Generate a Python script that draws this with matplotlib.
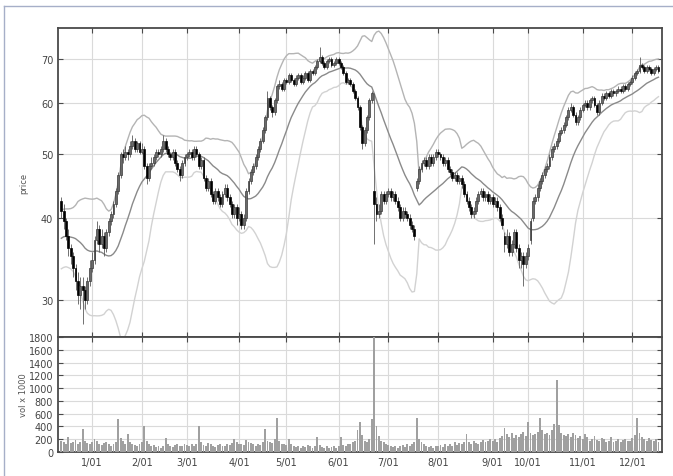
import matplotlib
matplotlib.use("Agg")
import matplotlib.pyplot as plt
from matplotlib.lines import Line2D
import numpy as np
import pandas as pd

# trading calendar (NYSE, Dec 2000 - Dec 2001, incl. the Sep 11-14 closure)
start_day = "2000-12-12"
end_day = "2001-12-18"
holidays = ["2000-12-25", "2001-01-01", "2001-01-15", "2001-02-19", "2001-04-13",
            "2001-05-28", "2001-07-04", "2001-09-03", "2001-09-11", "2001-09-12",
            "2001-09-13", "2001-09-14", "2001-11-22"]

# closes of the 19 sessions before the window (only feed the 20-day bands)
warmup_close = [35.5, 36.5, 37.0, 36.0, 35.0, 34.5, 35.5, 36.5, 37.5, 38.0,
                37.0, 36.0, 35.5, 36.5, 37.5, 38.5, 39.0, 40.0, 41.5]

opens = [
    # Dec
    42.5, 41.0, 39.5, 37.5, 36.0, 35.0, 33.5, 32.0, 30.5, 31.5, 31.0, 30.0, 32.0,
    # Jan
    33.5, 34.5, 37.0, 38.5, 36.5, 37.5, 36.0, 38.0, 39.5, 40.5, 42.0, 44.0, 46.5, 50.0, 49.5,
    50.5, 50.0, 51.5, 52.5, 51.0, 52.0,
    # Feb
    50.5, 51.0, 48.0, 46.0, 48.0, 48.5, 49.5, 50.5, 50.0, 51.0, 52.5, 51.0, 50.0, 49.5, 50.5,
    48.5, 47.5, 46.5, 48.5,
    # Mar
    49.5, 50.0, 50.5, 49.5, 51.0, 50.0, 48.0, 49.0, 46.0, 44.5, 45.5, 43.5, 42.5, 44.0, 43.0,
    42.0, 43.5, 44.5, 43.0, 42.0, 40.5, 41.5,
    # Apr
    40.0, 40.5, 39.0, 40.0, 44.0, 45.5, 47.0, 48.0, 49.5, 51.0, 52.5, 54.5, 57.0, 61.0, 59.0,
    58.0, 60.5, 63.5, 64.0, 63.0,
    # May
    65.0, 64.5, 66.0, 65.0, 64.0, 65.5, 66.0, 64.5, 65.5, 66.5, 65.0, 67.0, 66.5, 68.0, 69.5,
    70.5, 69.0, 68.0, 69.5, 70.0, 68.5, 69.0,
    # Jun
    70.0, 69.0, 68.0, 66.5, 64.5, 65.0, 64.0, 62.5, 61.0, 59.0, 55.0, 52.0, 54.5, 57.0, 60.5,
    44.0, 42.0, 40.5, 41.0, 43.5, 42.5,
    # Jul
    43.5, 44.0, 43.0, 43.5, 42.5, 41.5, 40.0, 41.0, 40.5, 40.0, 39.0, 38.5, 44.5, 45.5, 47.5,
    48.5, 49.0, 48.0, 49.5, 48.5, 49.5,
    # Aug
    50.5, 50.0, 49.5, 48.5, 49.0, 47.5, 47.0, 46.0, 46.5, 45.5, 46.0, 45.0, 43.5, 42.5, 41.5,
    40.5, 41.0, 42.5, 43.5, 44.0, 43.0, 43.5, 42.5,
    # Sep
    43.0, 42.0, 42.5, 41.5, 40.0, 37.5, 36.5, 37.5, 35.5, 36.5, 38.0, 36.0, 34.5, 35.0, 34.0,
    # Oct
    35.0, 37.0, 40.0, 42.5, 43.0, 44.5, 45.5, 46.5, 47.5, 48.0, 49.5, 51.0, 51.5, 52.5, 54.0,
    54.5, 55.5, 57.0, 58.5, 59.0, 57.5, 56.0, 57.0,
    # Nov
    58.5, 59.5, 60.0, 59.0, 60.5, 61.0, 59.5, 58.0, 60.0, 61.5, 61.0, 62.0, 61.5, 62.5, 62.0,
    62.5, 63.0, 62.5, 63.5, 63.0, 64.0,
    # Dec
    64.5, 65.5, 66.5, 67.0, 68.5, 68.0, 67.0, 68.0, 67.5, 66.5, 67.5, 68.0,
]

highs = [
    43.0, 42.0, 40.0, 38.5, 36.5, 35.5, 34.0, 33.0, 32.5, 32.5, 31.5, 32.5, 34.5,
    35.5, 37.5, 39.5, 39.0, 38.5, 38.0, 38.5, 40.0, 41.0, 42.5, 44.5, 47.0, 50.5, 51.0, 51.5,
    51.0, 52.5, 53.5, 53.0, 52.5, 52.5,
    52.0, 51.5, 48.5, 48.5, 49.5, 50.0, 51.0, 51.0, 51.5, 53.5, 53.0, 51.5, 50.5, 51.0, 51.0,
    49.0, 48.0, 49.0, 50.0,
    50.5, 51.0, 51.0, 51.5, 51.5, 50.5, 49.5, 49.5, 46.5, 46.0, 46.0, 44.0, 44.5, 44.5, 43.5,
    44.0, 45.0, 45.0, 43.5, 42.5, 42.0, 42.0,
    41.5, 41.0, 40.5, 44.5, 46.0, 47.5, 48.5, 50.0, 51.5, 53.0, 55.0, 57.5, 62.5, 61.5, 59.5,
    61.0, 64.0, 65.0, 64.5, 65.5,
    65.5, 66.5, 66.5, 65.5, 66.0, 66.5, 66.5, 66.0, 67.0, 67.0, 67.5, 67.5, 68.5, 70.0, 73.0,
    71.0, 69.5, 70.0, 70.5, 70.5, 69.5, 70.5,
    70.5, 69.5, 68.5, 67.0, 65.5, 65.5, 64.5, 63.0, 61.5, 59.5, 55.5, 55.0, 57.5, 61.0, 62.5,
    62.0, 43.0, 42.0, 44.0, 44.0, 44.0,
    44.5, 44.5, 44.0, 44.0, 43.0, 42.0, 41.5, 41.5, 41.0, 40.5, 39.5, 39.0, 46.0, 48.0, 49.0,
    49.5, 49.5, 50.0, 50.0, 50.0, 51.0,
    51.0, 50.5, 50.0, 49.5, 49.5, 48.0, 47.5, 47.0, 47.0, 46.5, 46.5, 45.5, 44.0, 43.0, 42.0,
    41.5, 43.0, 44.0, 44.5, 44.5, 44.0, 44.0, 43.5,
    43.5, 43.0, 43.0, 42.0, 40.5, 38.0, 38.5, 38.0, 37.0, 38.5, 38.5, 36.5, 35.5, 35.5, 35.5,
    36.5, 40.0, 43.0, 43.5, 45.0, 46.0, 47.0, 48.0, 48.5, 50.0, 51.5, 52.0, 53.0, 54.5, 55.0,
    56.0, 57.5, 59.0, 60.0, 59.5, 58.0, 57.5, 59.0,
    60.0, 60.5, 60.5, 61.0, 61.5, 61.5, 60.0, 60.5, 62.0, 62.0, 62.5, 62.5, 63.0, 63.0, 63.0,
    63.5, 63.5, 64.0, 64.0, 64.5, 65.0,
    66.0, 67.0, 67.5, 70.5, 69.0, 68.5, 68.5, 68.5, 68.0, 68.0, 68.5, 68.5,
]

lows = [
    40.0, 38.5, 37.0, 35.0, 34.0, 32.5, 31.0, 29.5, 29.0, 27.5, 29.0, 29.5, 31.5,
    33.0, 34.0, 36.5, 35.5, 36.0, 35.0, 35.5, 37.5, 39.0, 40.0, 41.5, 43.5, 46.0, 48.5, 49.0,
    49.0, 49.5, 51.0, 50.5, 50.5, 50.0,
    50.0, 47.5, 45.0, 45.5, 47.5, 48.0, 49.0, 49.5, 49.5, 50.5, 50.5, 49.5, 49.0, 49.0, 48.0,
    47.0, 45.5, 46.0, 48.0,
    49.0, 49.5, 49.0, 49.0, 49.5, 47.5, 47.5, 45.5, 44.0, 44.0, 43.0, 42.0, 42.0, 42.5, 41.5,
    41.5, 43.0, 42.5, 41.5, 40.0, 40.0, 39.0,
    39.5, 38.5, 38.5, 39.5, 43.5, 45.0, 46.5, 47.5, 49.0, 50.5, 52.0, 54.0, 56.5, 58.5, 57.0,
    57.5, 60.0, 63.0, 62.5, 62.5,
    64.0, 64.0, 64.5, 63.5, 63.5, 65.0, 64.0, 64.0, 65.0, 64.5, 64.5, 66.0, 66.0, 67.5, 69.0,
    68.5, 67.5, 67.5, 69.0, 68.0, 68.0, 68.5,
    68.5, 67.5, 66.0, 64.0, 64.0, 63.5, 62.0, 60.5, 58.5, 54.5, 51.0, 51.5, 54.0, 56.5, 60.0,
    36.5, 39.5, 40.0, 40.5, 42.0, 42.0,
    43.0, 42.5, 42.5, 42.0, 41.0, 39.5, 39.5, 40.0, 39.5, 38.5, 38.0, 37.0, 44.0, 45.0, 47.0,
    48.0, 47.5, 47.5, 48.0, 48.0, 49.0,
    49.5, 49.0, 48.0, 48.0, 47.0, 46.5, 45.5, 45.5, 45.0, 45.0, 44.5, 43.0, 42.0, 41.0, 40.0,
    40.0, 40.5, 42.0, 43.0, 42.5, 42.5, 42.0, 42.0,
    41.5, 41.5, 41.0, 39.5, 38.5, 35.5, 36.0, 35.0, 35.0, 36.0, 35.5, 33.5, 33.5, 31.5, 33.5,
    34.5, 36.5, 39.5, 42.0, 42.5, 44.0, 45.0, 46.0, 47.0, 47.5, 49.0, 50.5, 51.0, 52.0, 53.5,
    54.0, 55.0, 56.5, 58.0, 57.0, 55.5, 55.5, 56.5,
    58.0, 59.0, 58.5, 58.5, 60.0, 59.0, 57.5, 57.5, 59.5, 60.5, 60.5, 61.0, 61.0, 61.5, 61.5,
    62.0, 62.0, 62.0, 62.5, 62.5, 63.5,
    64.0, 65.0, 66.0, 66.5, 67.5, 66.5, 66.5, 67.0, 66.0, 66.0, 67.0, 66.5,
]

closes = [
    41.0, 39.5, 37.5, 36.0, 35.0, 33.5, 32.0, 30.5, 31.5, 31.0, 30.0, 32.0, 33.5,
    34.5, 37.0, 38.5, 36.5, 37.5, 36.0, 38.0, 39.5, 40.5, 42.0, 44.0, 46.5, 50.0, 49.5, 50.5,
    50.0, 51.5, 52.5, 51.0, 52.0, 50.5,
    51.0, 48.0, 46.0, 48.0, 48.5, 49.5, 50.5, 50.0, 51.0, 52.5, 51.0, 50.0, 49.5, 50.5, 48.5,
    47.5, 46.5, 48.5, 49.5,
    50.0, 50.5, 49.5, 51.0, 50.0, 48.0, 49.0, 46.0, 44.5, 45.5, 43.5, 42.5, 44.0, 43.0, 42.0,
    43.5, 44.5, 43.0, 42.0, 40.5, 41.5, 40.0,
    40.5, 39.0, 40.0, 44.0, 45.5, 47.0, 48.0, 49.5, 51.0, 52.5, 54.5, 57.0, 61.0, 59.0, 58.0,
    60.5, 63.5, 64.0, 63.0, 65.0,
    64.5, 66.0, 65.0, 64.0, 65.5, 66.0, 64.5, 65.5, 66.5, 65.0, 67.0, 66.5, 68.0, 69.5, 70.5,
    69.0, 68.0, 69.5, 70.0, 68.5, 69.0, 70.0,
    69.0, 68.0, 66.5, 64.5, 65.0, 64.0, 62.5, 61.0, 59.0, 55.0, 52.0, 54.5, 57.0, 60.5, 62.0,
    42.0, 40.5, 41.0, 43.5, 42.5, 43.5,
    44.0, 43.0, 43.5, 42.5, 41.5, 40.0, 41.0, 40.5, 40.0, 39.0, 38.5, 37.5, 45.5, 47.5, 48.5,
    49.0, 48.0, 49.5, 48.5, 49.5, 50.5,
    50.0, 49.5, 48.5, 49.0, 47.5, 47.0, 46.0, 46.5, 45.5, 46.0, 45.0, 43.5, 42.5, 41.5, 40.5,
    41.0, 42.5, 43.5, 44.0, 43.0, 43.5, 42.5, 43.0,
    42.0, 42.5, 41.5, 40.0, 39.0, 36.5, 37.5, 35.5, 36.5, 38.0, 36.0, 34.5, 35.0, 34.0, 35.0,
    36.0, 39.5, 42.5, 43.0, 44.5, 45.5, 46.5, 47.5, 48.0, 49.5, 51.0, 51.5, 52.5, 54.0, 54.5,
    55.5, 57.0, 58.5, 59.0, 57.5, 56.0, 57.0, 58.5,
    59.5, 60.0, 59.0, 60.5, 61.0, 59.5, 58.0, 60.0, 61.5, 61.0, 62.0, 61.5, 62.5, 62.0, 62.5,
    63.0, 62.5, 63.5, 63.0, 64.0, 64.5,
    65.5, 66.5, 67.0, 68.5, 68.0, 67.0, 68.0, 67.5, 66.5, 67.5, 68.0, 67.0,
]

# volume, thousands of shares
volume = [
    180, 150, 120, 230, 140, 160, 190, 130, 150, 360, 170, 140, 120,
    150, 200, 170, 130, 110, 140, 160, 120, 100, 130, 150, 510, 220, 180, 130, 280, 150, 120,
    110, 90, 130,
    150, 400, 180, 120, 90, 110, 80, 100, 70, 90, 215, 120, 90, 80, 110, 130, 100, 90, 120,
    110, 90, 130, 100, 120, 400, 150, 110, 90, 140, 120, 100, 80, 110, 130, 90, 100, 120, 110,
    140, 200, 150,
    130, 120, 110, 190, 160, 140, 120, 100, 130, 110, 150, 360, 180, 160, 140, 200, 540, 170,
    130, 120,
    110, 200, 120, 90, 80, 100, 70, 90, 80, 110, 90, 70, 100, 230, 110, 80, 70, 90, 60, 80,
    100, 70,
    90, 230, 110, 100, 130, 120, 150, 180, 340, 470, 260, 180, 150, 200, 510, 1950, 400, 250,
    180, 150, 120,
    110, 90, 80, 100, 70, 90, 110, 80, 120, 100, 130, 150, 540, 200, 150, 120, 90, 80, 100,
    70, 90,
    90, 110, 80, 120, 100, 130, 90, 150, 110, 140, 120, 160, 280, 150, 130, 170, 140, 120,
    160, 190, 150, 180, 200,
    170, 200, 160, 220, 250, 370, 280, 240, 300, 220, 260, 230, 280, 310, 250,
    470, 300, 260, 280, 320, 540, 350, 280, 300, 260, 340, 440, 1130, 420, 300, 260, 250, 280,
    230, 300, 270, 220, 250,
    200, 280, 230, 180, 210, 250, 190, 170, 220, 200, 160, 180, 230, 150, 170, 200, 160, 190,
    210, 180, 170,
    220, 260, 540, 300, 240, 200, 180, 220, 190, 170, 200, 160,
]

price_ticks = [30, 40, 50, 60, 70]
vol_ticks = list(range(0, 1801, 200))

dates = pd.bdate_range(start_day, end_day, freq="C", holidays=holidays)
x = np.arange(len(dates))
o = np.array(opens)
h = np.array(highs)
l = np.array(lows)
c = np.array(closes)
v = np.array(volume)

# 20-day moving average and Bollinger bands
s = pd.Series(warmup_close + closes)
ma = s.rolling(20).mean().to_numpy()[len(warmup_close):]
sd = s.rolling(20).std(ddof=0).to_numpy()[len(warmup_close):]
upper = ma + 2 * sd
lower = ma - 2 * sd

# month starts for the x ticks
month_pos = [i for i in range(1, len(dates)) if dates[i].month != dates[i - 1].month]
month_lab = ["%d/01" % dates[i].month for i in month_pos]

fig = plt.figure(figsize=(6.73, 4.77), dpi=100)
ax = fig.add_axes([0.0862, 0.2914, 0.8975, 0.6478])
axv = fig.add_axes([0.0862, 0.0503, 0.8975, 0.2411], sharex=ax)

grid_c = "#dadada"
frame_c = "#4a4a4a"

ax.plot(x, upper, color="#b4b4b4", lw=1.0, zorder=2)
ax.plot(x, lower, color="#d2d2d2", lw=1.0, zorder=2)
ax.plot(x, ma, color="#8a8a8a", lw=1.0, zorder=2)

ax.vlines(x, l, h, color="#5a5a5a", lw=0.6, zorder=3)
down = c < o
body_lo = np.minimum(o, c)
body_hi = np.maximum(o, c)
ax.bar(x[down], (body_hi - body_lo)[down], bottom=body_lo[down], width=0.8,
       color="black", edgecolor="black", lw=0.5, zorder=4)
ax.bar(x[~down], (body_hi - body_lo)[~down], bottom=body_lo[~down], width=0.8,
       color="#6a6a6a", edgecolor="#3a3a3a", lw=0.5, zorder=4)

ax.set_yscale("log")
ax.set_ylim(26.3, 78)
ax.set_yticks(price_ticks)
ax.set_yticklabels([str(t) for t in price_ticks])
ax.yaxis.set_minor_locator(matplotlib.ticker.NullLocator())
ax.set_xlim(-1.4, 253.5)
ax.set_xticks(month_pos)
ax.tick_params(labelbottom=False)
ax.set_ylabel("price", fontsize=6, color="#555")

axv.bar(x, v, width=0.8, color="#a0a0a0", zorder=3)
axv.set_ylim(0, 1800)
axv.set_yticks(vol_ticks)
axv.set_yticklabels([str(t) for t in vol_ticks])
axv.set_xticks(month_pos)
axv.set_xticklabels(month_lab)
axv.set_ylabel("vol x 1000", fontsize=6, color="#555")

for a in (ax, axv):
    a.grid(True, color=grid_c, lw=0.8, zorder=0)
    a.set_axisbelow(True)
    for sp in a.spines.values():
        sp.set_color(frame_c)
        sp.set_linewidth(1.3)
    a.tick_params(direction="in", length=3.5, width=0.8, color=frame_c,
                  top=True, right=True, labelsize=7, labelcolor="#444")
    a.yaxis.set_label_coords(-0.05, 0.5)
axv.tick_params(labelbottom=True)

# thin page frame around the picture
fig.add_artist(Line2D([0.006, 1.0], [0.9853, 0.9853], color="#a6afc8", lw=1.0))
fig.add_artist(Line2D([0.006, 0.006], [0.0, 0.9853], color="#a6afc8", lw=1.0))

fig.savefig("out.png", dpi=100)
